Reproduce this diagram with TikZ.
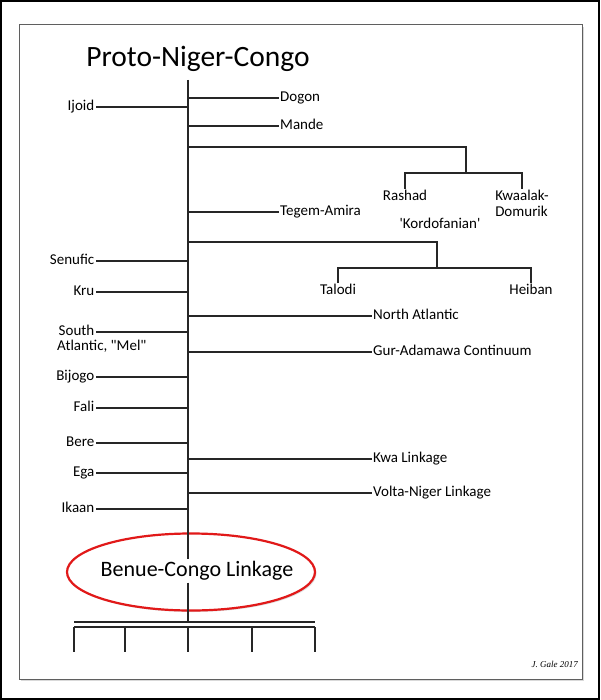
\documentclass[tikz,border=0pt]{standalone}
\usepackage{fontspec}
\setmainfont{Carlito}[Ligatures=TeXOff]
\newfontfamily\sigfont{Liberation Serif}
\usetikzlibrary{shapes.geometric,positioning,shadows}
\definecolor{ringred}{RGB}{225,25,25}
\definecolor{framegray}{RGB}{95,95,95}

\begin{document}
\begin{tikzpicture}[x=1pt, y=-1pt,
    branch/.style={draw=black!85, line width=1.2pt},
    rlab/.style={anchor=west, inner sep=1pt, text height=10pt, text depth=3.5pt, font=\fontsize{15}{16}\selectfont},
    llab/.style={anchor=east, inner sep=1.5pt, text height=10pt, text depth=3.5pt, font=\fontsize{15}{16}\selectfont},
    leaf/.style={anchor=north, inner sep=1pt, align=left, font=\fontsize{15}{15.5}\selectfont},
    ring/.style={ellipse, draw=ringred, fill=white, line width=2.2pt, minimum width=248pt, minimum height=77pt, drop shadow={opacity=0.25, shadow xshift=1.5pt, shadow yshift=-1.5pt}}
]
\useasboundingbox (0,0) rectangle (600,700);

% frames
\draw[line width=2pt] (1,1) rectangle (599,699);
\draw[draw=framegray, line width=1pt, fill=white, drop shadow={opacity=0.3, shadow xshift=2pt, shadow yshift=-2pt}] (19,25) rectangle (582,679);

% title and trunk
\node[font=\fontsize{29.5}{32}\selectfont] (pnc) at (198,59) {Proto-Niger-Congo};
\coordinate (root) at (188,80);

% Benue-Congo, circled
\node[ring] (bcring) at (191,572) {};
\node[font=\fontsize{22}{24}\selectfont, inner sep=2pt] (bcl) at (197,571) {Benue-Congo Linkage};
\draw[branch] (root) -- (root |- bcl.north);

% right branches
\node[rlab] (dogon) at (279,98) {Dogon};
\node[rlab] (mande) at (279,126) {Mande};
\node[rlab] (tegem) at (279,212) {Tegem-Amira};
\node[rlab] (natl) at (372,316) {North Atlantic};
\node[rlab] (gur) at (372,352) {Gur-Adamawa Continuum};
\node[rlab] (kwa) at (372,459) {Kwa Linkage};
\node[rlab] (volta) at (372,493) {Volta-Niger Linkage};

\draw[branch] (root |- dogon.west) -- (dogon.west);
\draw[branch] (root |- mande.west) -- (mande.west);
\draw[branch] (root |- tegem.west) -- (tegem.west);
\draw[branch] (root |- natl.west) -- (natl.west);
\draw[branch] (root |- gur.west) -- (gur.west);
\draw[branch] (root |- kwa.west) -- (kwa.west);
\draw[branch] (root |- volta.west) -- (volta.west);

% Kordofanian groups
\coordinate (kord) at (466,147);
\coordinate (kmid) at (466,173);
\node[leaf] (rashad) at (405,189) {Rashad};
\node[leaf] (kwaalak) at (522,189) {Kwaalak-\\Domurik};
\node[font=\fontsize{15}{16}\selectfont] (kordlab) at (440,223) {'Kordofanian'};
\draw[branch] (root |- kord) -- (kord) -- (kmid);
\draw[branch] (rashad.north) |- (kmid) -| (kwaalak.north);

\coordinate (tal) at (437,242);
\coordinate (tmid) at (437,268);
\node[leaf] (talodi) at (338,283) {Talodi};
\node[leaf] (heiban) at (531,283) {Heiban};
\draw[branch] (root |- tal) -- (tal) -- (tmid);
\draw[branch] (talodi.north) |- (tmid) -| (heiban.north);

% left branches
\node[llab] (ijoid) at (96,107) {Ijoid};
\node[llab] (senufic) at (96,261) {Senufic};
\node[llab] (kru) at (96,292) {Kru};
\node[llab] (south) at (96,332) {South};
\node[anchor=north west, inner sep=0pt, text height=10pt, font=\fontsize{15}{16}\selectfont] (satl) at (south.south west) {Atlantic, "Mel"};
\node[llab] (bijogo) at (96,377) {Bijogo};
\node[llab] (fali) at (96,408) {Fali};
\node[llab] (bere) at (96,443) {Bere};
\node[llab] (ega) at (96,473) {Ega};
\node[llab] (ikaan) at (96,509) {Ikaan};

\draw[branch] (ijoid.east) -- (ijoid.east -| root);
\draw[branch] (senufic.east) -- (senufic.east -| root);
\draw[branch] (kru.east) -- (kru.east -| root);
\draw[branch] (south.east) -- (south.east -| root);
\draw[branch] (bijogo.east) -- (bijogo.east -| root);
\draw[branch] (fali.east) -- (fali.east -| root);
\draw[branch] (bere.east) -- (bere.east -| root);
\draw[branch] (ega.east) -- (ega.east -| root);
\draw[branch] (ikaan.east) -- (ikaan.east -| root);

% daughters of Benue-Congo
\coordinate (bl) at (74,622);
\coordinate (br) at (315,622);
\draw[branch] (bcl.south -| root) -- (bl -| root);
\draw[branch] (bl) -- (br);
\draw[branch] ([yshift=-5pt]bl) -- ([yshift=-5pt]br);
\foreach \x in {74,125,188,252,315}
  \draw[branch] (\x,627) -- (\x,652);

\node[anchor=east, inner sep=0pt, font=\sigfont\itshape\fontsize{9}{10}\selectfont] (sig) at (578,664) {J. Gale 2017};

\end{tikzpicture}
\end{document}
